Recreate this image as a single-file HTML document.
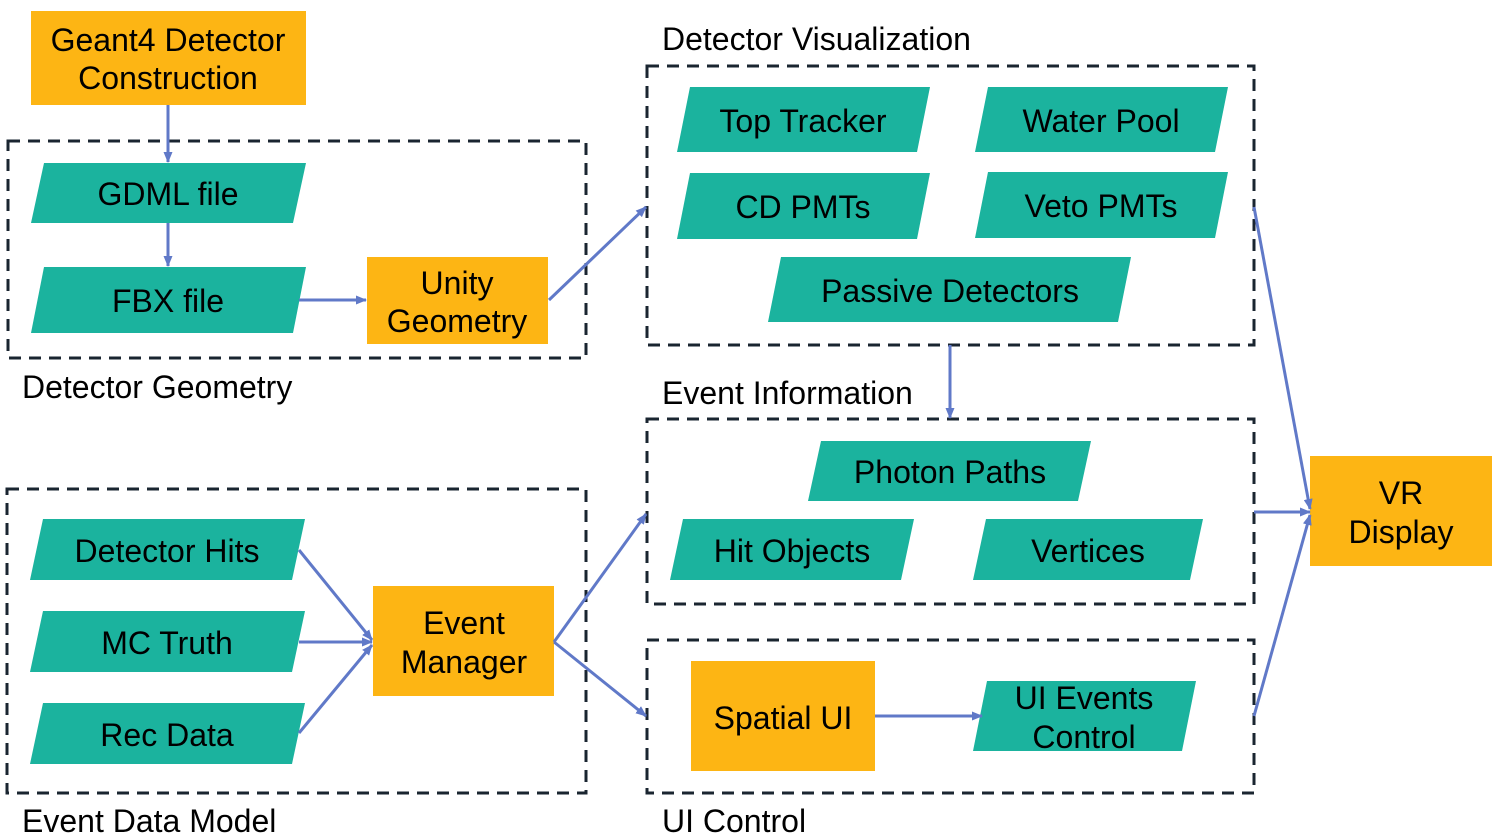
<!DOCTYPE html>
<html><head><meta charset="utf-8"><style>
html,body{margin:0;padding:0;background:#fff;}
svg{display:block;}
text{font-family:"Liberation Sans",Arial,sans-serif;fill:#000;}
.n{font-size:32px;text-anchor:middle;}
.l{font-size:32px;}
.t{fill:#1BB39E;}
.o{fill:#FDB514;}
.d{fill:none;stroke:#1a2530;stroke-width:3;stroke-dasharray:12,8;}
.a{stroke:#6079C8;stroke-width:3;fill:none;marker-end:url(#ah);}
</style></head><body>
<svg width="1496" height="838" viewBox="0 0 1496 838" xmlns="http://www.w3.org/2000/svg">
<defs><marker id="ah" markerWidth="11" markerHeight="9" refX="10" refY="4.5" orient="auto" markerUnits="userSpaceOnUse"><path d="M0,0 L11,4.5 L0,9 Z" fill="#6079C8"/></marker></defs>

<rect class="d" x="8" y="141" width="578" height="217"/>
<rect class="d" x="647" y="66" width="607" height="279"/>
<rect class="d" x="647" y="419" width="607" height="185"/>
<rect class="d" x="647" y="640" width="607" height="153"/>
<rect class="d" x="7" y="489" width="579" height="304"/>

<text class="l" x="22" y="398">Detector Geometry</text>
<text class="l" x="662" y="50">Detector Visualization</text>
<text class="l" x="662" y="404">Event Information</text>
<text class="l" x="662" y="832">UI Control</text>
<text class="l" x="22" y="832">Event Data Model</text>

<rect class="o" x="31" y="11" width="275" height="94"/>
<text class="n" x="168" y="51">Geant4 Detector</text>
<text class="n" x="168" y="89">Construction</text>
<rect class="o" x="367" y="257" width="181" height="87"/>
<text class="n" x="457" y="294">Unity</text>
<text class="n" x="457" y="332">Geometry</text>
<rect class="o" x="373" y="586" width="181" height="110"/>
<text class="n" x="464" y="634">Event</text>
<text class="n" x="464" y="673">Manager</text>
<rect class="o" x="691" y="661" width="184" height="110"/>
<text class="n" x="783" y="729">Spatial UI</text>
<rect class="o" x="1310" y="456" width="182" height="110"/>
<text class="n" x="1401" y="504">VR</text>
<text class="n" x="1401" y="543">Display</text>

<polygon class="t" points="44,163 306,163 293,223 31,223"/><text class="n" x="168" y="205">GDML file</text>
<polygon class="t" points="44,267 306,267 293,333 31,333"/><text class="n" x="168" y="312">FBX file</text>
<polygon class="t" points="690,87 930,87 917,152 677,152"/><text class="n" x="803" y="132">Top Tracker</text>
<polygon class="t" points="988,87 1228,87 1215,152 975,152"/><text class="n" x="1101" y="132">Water Pool</text>
<polygon class="t" points="690,173 930,173 917,239 677,239"/><text class="n" x="803" y="218">CD PMTs</text>
<polygon class="t" points="988,172 1228,172 1215,238 975,238"/><text class="n" x="1101" y="217">Veto PMTs</text>
<polygon class="t" points="781,257 1131,257 1118,322 768,322"/><text class="n" x="950" y="302">Passive Detectors</text>
<polygon class="t" points="821,441 1091,441 1078,501 808,501"/><text class="n" x="950" y="483">Photon Paths</text>
<polygon class="t" points="683,519 914,519 901,580 670,580"/><text class="n" x="792" y="562">Hit Objects</text>
<polygon class="t" points="986,519 1203,519 1190,580 973,580"/><text class="n" x="1088" y="562">Vertices</text>
<polygon class="t" points="987,681 1196,681 1182,751 973,751"/><text class="n" x="1084" y="709">UI Events</text><text class="n" x="1084" y="748">Control</text>
<polygon class="t" points="43,519 305,519 292,580 30,580"/><text class="n" x="167" y="562">Detector Hits</text>
<polygon class="t" points="43,611 305,611 292,672 30,672"/><text class="n" x="167" y="654">MC Truth</text>
<polygon class="t" points="43,703 305,703 292,764 30,764"/><text class="n" x="167" y="746">Rec Data</text>

<line class="a" x1="168" y1="105" x2="168" y2="162"/>
<line class="a" x1="168" y1="223" x2="168" y2="266"/>
<line class="a" x1="299" y1="300" x2="366" y2="300"/>
<line class="a" x1="549" y1="300" x2="646" y2="207"/>
<line class="a" x1="950" y1="345" x2="950" y2="418"/>
<line class="a" x1="299" y1="550" x2="372" y2="640"/>
<line class="a" x1="299" y1="642" x2="372" y2="642"/>
<line class="a" x1="299" y1="733" x2="372" y2="645"/>
<line class="a" x1="554" y1="642" x2="646" y2="514"/>
<line class="a" x1="554" y1="642" x2="646" y2="716"/>
<line class="a" x1="875" y1="716" x2="982" y2="716"/>
<line class="a" x1="1254" y1="207" x2="1310" y2="509"/>
<line class="a" x1="1254" y1="512" x2="1310" y2="512"/>
<line class="a" x1="1254" y1="716" x2="1310" y2="515"/>
</svg>
</body></html>
